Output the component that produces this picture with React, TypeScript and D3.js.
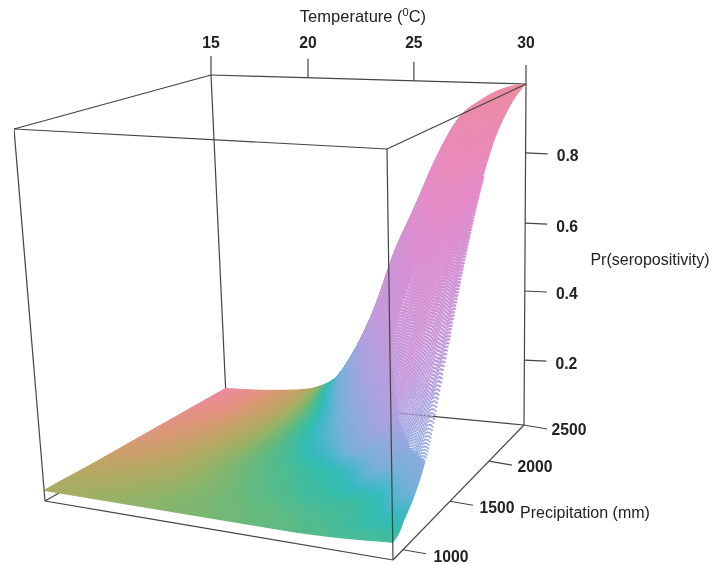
import React, { useEffect, useRef } from "react";
import * as d3 from "d3";

const width = 713;
const height = 565;

// axis ticks
const tempTicks = [15, 20, 25, 30];
const precipTicks = [1000, 1500, 2000, 2500];
const probTicks = [0.2, 0.4, 0.6, 0.8];

const temps = [15, 17, 19, 20, 21, 22, 23, 24, 25, 26, 27, 28, 29, 30];
const precips = [900, 1000, 1250, 1500, 1750, 2000, 2250, 2500];

// Pr(seropositivity), one row per precipitation
const probRows = [
  [0.03, 0.03, 0.03, 0.03, 0.03, 0.03, 0.03, 0.03, 0.03, 0.03, 0.032, 0.035, 0.04, 0.045],
  [0.03, 0.03, 0.03, 0.03, 0.03, 0.03, 0.03, 0.03, 0.03, 0.031, 0.035, 0.04, 0.05, 0.07],
  [0.028, 0.028, 0.028, 0.028, 0.028, 0.028, 0.028, 0.03, 0.032, 0.037, 0.044, 0.057, 0.092, 0.18],
  [0.028, 0.028, 0.028, 0.028, 0.028, 0.029, 0.032, 0.036, 0.042, 0.054, 0.084, 0.16, 0.278, 0.432],
  [0.028, 0.028, 0.028, 0.028, 0.031, 0.034, 0.039, 0.048, 0.068, 0.12, 0.226, 0.364, 0.527, 0.664],
  [0.028, 0.028, 0.029, 0.032, 0.036, 0.042, 0.054, 0.084, 0.16, 0.278, 0.432, 0.581, 0.722, 0.849],
  [0.028, 0.028, 0.033, 0.038, 0.045, 0.06, 0.1, 0.2, 0.33, 0.5, 0.635, 0.78, 0.895, 0.95],
  [0.028, 0.033, 0.045, 0.06, 0.1, 0.2, 0.33, 0.5, 0.635, 0.78, 0.895, 0.95, 0.985, 1],
];

// colour of the surface as a hue in degrees, same grid
const hueRows = [
  [100, 108, 118, 124, 130, 135, 140, 145, 150, 155, 160, 165, 168, 170],
  [98, 105, 116, 124, 130, 135, 140, 145, 150, 158, 165, 175, 180, 190],
  [80, 90, 106, 118, 130, 142, 152, 160, 170, 175, 180, 192, 225, 255],
  [55, 72, 100, 120, 140, 155, 165, 178, 190, 210, 240, 265, 285, 295],
  [38, 60, 95, 118, 145, 170, 195, 215, 245, 270, 295, 305, 313, 320],
  [25, 45, 88, 115, 155, 195, 225, 255, 280, 298, 312, 324, 333, 340],
  [12, 35, 80, 115, 175, 225, 262, 285, 305, 320, 332, 342, 348, 352],
  [3, 30, 75, 120, 215, 270, 298, 312, 325, 338, 348, 354, 358, 360],
];

// hue to what the picture actually shows: hcl hue and the muted chroma it has there
const hueTone = d3.scaleLinear().domain([0, 180, 230, 270, 300, 330, 360]).range([8, 182, 245, 285, 315, 335, 368]);
const chromaTone = d3
  .scaleLinear()
  .domain([8, 68, 108, 147, 185, 246, 290, 314, 335, 368])
  .range([39, 35, 38, 43, 40, 28, 32, 38, 44, 39]);

// box corners on screen: front/back, left/right
const floor = { fl: [45, 501], fr: [393, 560], bl: [226, 397], br: [524, 425] };
const roof = { fl: [14, 129], fr: [387, 149], bl: [211, 75], br: [526, 84] };

// the box is in perspective so the ticks are not evenly spaced
const xT = d3.scaleLinear().domain(tempTicks).range([0, 0.308, 0.644, 1]);
const yP = d3.scaleLinear().domain([900, 1000, 1500, 2000, 2500]).range([0, 0.076, 0.435, 0.733, 1]);
const zW = d3.scaleLinear().domain([0, 0.2, 0.4, 0.6, 0.8, 1]).range([0, 0.19, 0.393, 0.592, 0.798, 1]);

// left limit of the thin part of the surface, where the points no longer touch
const thinLeft = d3
  .scaleLinear()
  .domain([177, 207, 237, 263, 310, 340, 357, 390, 423, 450, 460])
  .range([465, 442, 428, 415, 398, 392, 388, 393, 398, 408, 420]);
const thinRadius = d3.scaleLinear().domain([177, 300, 460]).range([1.7, 1.35, 1.05]);

function project(t: number, p: number, z: number): [number, number] {
  const u = xT(t);
  const v = yP(p);
  const w = zW(z);
  const corner = (q: any, i: number) =>
    (1 - v) * ((1 - u) * q.fl[i] + u * q.fr[i]) + v * ((1 - u) * q.bl[i] + u * q.br[i]);
  return [
    (1 - w) * corner(floor, 0) + w * corner(roof, 0),
    (1 - w) * corner(floor, 1) + w * corner(roof, 1),
  ];
}

const tIndex = d3.scaleLinear().domain(temps).range(d3.range(temps.length)).clamp(true);
const pIndex = d3.scaleLinear().domain(precips).range(d3.range(precips.length)).clamp(true);

// Catmull-Rom through a row, so the drawn surface has no corners at the table's knots
function smooth(values: number[], at: number) {
  const i = Math.min(Math.floor(at), values.length - 2);
  const f = at - i;
  const a = values[Math.max(i - 1, 0)];
  const b = values[i];
  const c = values[i + 1];
  const d = values[Math.min(i + 2, values.length - 1)];
  return b + 0.5 * f * (c - a + f * (2 * a - 5 * b + 4 * c - d + f * (3 * b - a - 3 * c + d)));
}

function tableAt(rows: number[][], t: number, p: number) {
  const at = tIndex(t);
  return smooth(rows.map(r => smooth(r, at)), pIndex(p));
}

export default function App() {
  const chartRef = useRef<SVGSVGElement>(null);

  useEffect(() => {
    const svg = d3.select(chartRef.current);
    const lineColor = "#444";
    const root = svg.append("g").attr("filter", "url(#soft)");
    svg
      .append("defs")
      .append("filter")
      .attr("id", "soft")
      .attr("x", 0)
      .attr("y", 0)
      .attr("width", "100%")
      .attr("height", "100%")
      .append("feGaussianBlur")
      .attr("stdDeviation", 0.35);

    const edge = (g: any, a: number[], b: number[]) =>
      g
        .append("line")
        .attr("x1", a[0])
        .attr("y1", a[1])
        .attr("x2", b[0])
        .attr("y2", b[1])
        .attr("stroke", lineColor)
        .attr("stroke-width", 1.2);

    // back of the box goes under the points
    const back = root.append("g");
    edge(back, roof.bl, floor.bl);
    edge(back, floor.bl, floor.br);
    edge(back, floor.bl, floor.fl);
    edge(back, roof.bl, roof.br);
    edge(back, roof.bl, roof.fl);
    edge(back, roof.br, floor.br);

    // surface: solid cells, single points where it is stretched thin
    const ts = d3.range(15, 30.001, 0.1);
    const ps = d3.range(2500, 899, -8);
    const grid = ps.map(p => ts.map(t => project(t, p, tableAt(probRows, t, p))));
    const cellPaths = new Map<number, d3.Path>();
    const dots: { x: number; y: number; r: number; fill: string }[] = [];
    const colorOf = (hue: number) => {
      const h = hueTone(hue);
      return d3.hcl(h, chromaTone(h), 69).formatHex();
    };

    ps.forEach((p, i) => {
      ts.forEach((t, j) => {
        const [x, y] = grid[i][j];
        const isThin = y >= 177 && y <= 460 && x > thinLeft(y);
        const hue = tableAt(hueRows, t, p);
        if (isThin) {
          dots.push({ x, y, r: thinRadius(y), fill: colorOf(hue) });
          return;
        }
        if (i === ps.length - 1 || j === ts.length - 1) return;
        const key = Math.round(hue / 2) * 2;
        if (!cellPaths.has(key)) cellPaths.set(key, d3.path());
        const path = cellPaths.get(key)!;
        path.moveTo(x, y);
        path.lineTo(grid[i][j + 1][0], grid[i][j + 1][1]);
        path.lineTo(grid[i + 1][j + 1][0], grid[i + 1][j + 1][1]);
        path.lineTo(grid[i + 1][j][0], grid[i + 1][j][1]);
        path.closePath();
      });
    });

    root
      .append("g")
      .selectAll("path")
      .data(Array.from(cellPaths, ([hue, path]) => ({ hue, d: path.toString() })))
      .join("path")
      .attr("d", d => d.d)
      .attr("fill", d => colorOf(d.hue))
      .attr("stroke", d => colorOf(d.hue))
      .attr("stroke-width", 0.9);

    root
      .append("g")
      .selectAll("circle")
      .data(dots)
      .join("circle")
      .attr("cx", d => d.x)
      .attr("cy", d => d.y)
      .attr("r", d => d.r)
      .attr("fill", d => d.fill);

    // front of the box goes over them
    const front = root.append("g");
    edge(front, floor.fl, floor.fr);
    edge(front, floor.fr, floor.br);
    edge(front, floor.fl, roof.fl);
    edge(front, floor.fr, roof.fr);
    edge(front, roof.fl, roof.fr);
    edge(front, roof.fr, roof.br);

    const boldLabel = (x: number, y: number, text: string) =>
      root
        .append("text")
        .attr("x", x)
        .attr("y", y)
        .attr("text-anchor", "middle")
        .attr("dominant-baseline", "central")
        .attr("font-family", "Liberation Sans")
        .attr("font-size", 15.7)
        .attr("font-weight", "bold")
        .attr("fill", "#222")
        .text(text);

    tempTicks.forEach(t => {
      const [x, y] = project(t, 2500, 1);
      edge(root, [x, y], [x, y - 19]);
      boldLabel(x, 42, String(t));
    });

    precipTicks.forEach(p => {
      const [x, y] = project(30, p, 0);
      edge(root, [x, y], [x + 23, y + 4]);
      boldLabel(x + 45 + (2500 - p) / 500, y + 4 + (2500 - p) / 500, String(p));
    });

    probTicks.forEach(z => {
      const [x, y] = project(30, 2500, z);
      edge(root, [x, y], [x + 22, y + 1]);
      boldLabel(x + 42, y + 3, String(z));
    });

    const titleLabel = (x: number, y: number, size: number) =>
      root
        .append("text")
        .attr("x", x)
        .attr("y", y)
        .attr("text-anchor", "middle")
        .attr("dominant-baseline", "central")
        .attr("font-family", "Liberation Sans")
        .attr("font-size", size)
        .attr("fill", "#222");

    const tempTitle = titleLabel(363, 16, 16.5);
    tempTitle.append("tspan").text("Temperature (");
    tempTitle.append("tspan").attr("font-size", 11).attr("dy", -4).text("0");
    tempTitle.append("tspan").attr("dy", 4).text("C)");
    titleLabel(650, 259, 16).text("Pr(seropositivity)");
    titleLabel(585, 512, 16).text("Precipitation (mm)");

    return () => {
      svg.html("");
    };
  }, []);

  return (
    <svg
      ref={chartRef}
      width={width}
      height={height}
      style={{ position: "absolute", left: 0, top: 0, background: "#fff" }}
    />
  );
}
